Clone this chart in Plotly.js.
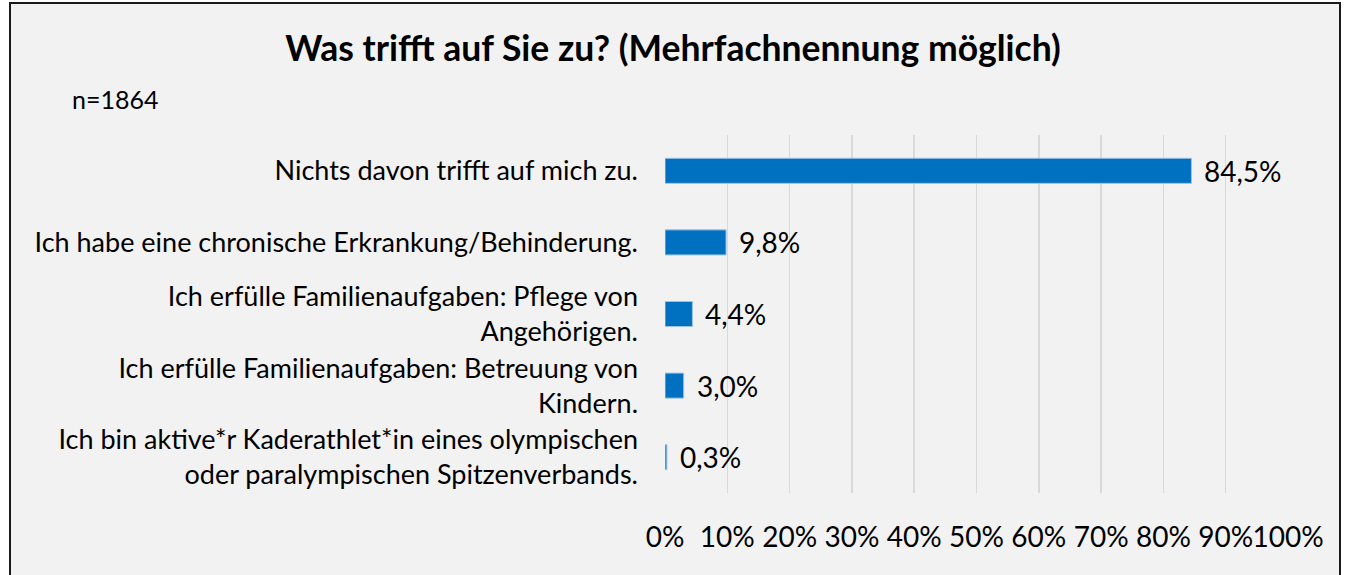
<!DOCTYPE html>
<html><head><meta charset="utf-8">
<script src="https://cdn.plot.ly/plotly-3.0.1.min.js"></script>
<style>
html,body{margin:0;padding:0;background:#fff;width:1347px;height:575px;overflow:hidden;}
#frame{position:absolute;left:9px;top:2px;width:1328px;height:580px;border:2px solid #1a1a1a;background:#F2F2F2;}
#chart{width:1328px;height:571px;}
</style></head>
<body>
<div id="frame"><div id="chart"></div></div>
<script>
const categories = [
  "Nichts davon trifft auf mich zu.",
  "Ich habe eine chronische Erkrankung/Behinderung.",
  "Ich erfülle Familienaufgaben: Pflege von<br>Angehörigen.",
  "Ich erfülle Familienaufgaben: Betreuung von<br>Kindern.",
  "Ich bin aktive*r Kaderathlet*in eines olympischen<br>oder paralympischen Spitzenverbands."
];
const values = [84.5, 9.8, 4.4, 3.0, 0.3];
const valueLabels = ["84,5%", "9,8%", "4,4%", "3,0%", "0,3%"];
const tickValues = [0,10,20,30,40,50,60,70,80,90,100];
const titleText = "Was trifft auf Sie zu? (Mehrfachnennung möglich)";
const noteText = "n=1864";

const font = "Lato, 'Noto Sans', sans-serif";
const W = 1328, H = 571;
const ml = 653.5, mr = 51, mt = 131, mb = 82;
const pw = W - ml - mr, ph = H - mt - mb;

const annotations = values.map((v,i)=>({
  x: v, y: categories[i], xref:'x', yref:'y',
  text: valueLabels[i], showarrow:false, xanchor:'left', yanchor:'middle',
  xshift: 11, font:{family:font, size:28, color:'#000'}
}));
annotations.push({
  xref:'paper', yref:'paper', x:(58-ml)/pw, y:(H-mb-95)/ph,
  xanchor:'left', yanchor:'middle', showarrow:false, text:noteText,
  font:{family:font, size:25, color:'#000'}
});

Plotly.newPlot('chart', [{
  type:'bar', orientation:'h', x: values, y: categories,
  marker:{color:'#0070C0', line:{color:'#9DC3E6', width:1}},
  width:0.35, hoverinfo:'skip'
}], {
  width:W, height:H,
  margin:{l:ml, r:mr, t:mt, b:mb, pad:0},
  paper_bgcolor:'#F2F2F2', plot_bgcolor:'#F2F2F2',
  showlegend:false,
  title:{text:'<b>'+titleText+'</b>', x:(662)/W, xref:'container', xanchor:'center', y:1-45/H, yref:'container', yanchor:'middle',
    font:{family:font, size:35.5, color:'#000'}},
  xaxis:{range:[0,100], tickvals:tickValues, ticktext:tickValues.map(t=>t+'%'), tickangle:0,
    showgrid:true, gridcolor:'#D9D9D9', gridwidth:1.5, zeroline:false, showline:false, ticks:'',
    tickfont:{family:font, size:28, color:'#000'}, ticklabelstandoff:25, fixedrange:true},
  yaxis:{type:'category', autorange:'reversed', showgrid:false, zeroline:false, showline:false, ticks:'',
    tickfont:{family:font, size:27, color:'#000'}, ticklabelstandoff:26, fixedrange:true},
  annotations: annotations
}, {displayModeBar:false, staticPlot:true});
</script>
</body></html>
